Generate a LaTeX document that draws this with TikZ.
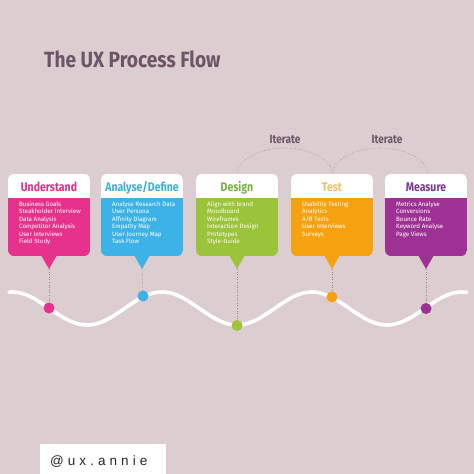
\documentclass[tikz,border=0pt]{standalone}
\usepackage{fontspec}
\setmainfont{Fira Sans}
\newfontfamily\condfont[FakeStretch=0.84]{Fira Sans}
\newfontfamily\titlefont[FakeStretch=0.87]{Fira Sans}
\newfontfamily\bodyfont{Fira Sans}
\newfontfamily\handlefont[LetterSpace=30]{Liberation Sans}
\definecolor{bg}{RGB}{220,206,208}
\definecolor{titlec}{RGB}{107,85,102}
\definecolor{cpink}{RGB}{230,50,140}
\definecolor{cblue}{RGB}{60,178,230}
\definecolor{cgreen}{RGB}{156,196,58}
\definecolor{corange}{RGB}{246,162,16}
\definecolor{cpurple}{RGB}{158,50,148}
\definecolor{hpink}{RGB}{222,48,135}
\definecolor{hblue}{RGB}{62,175,215}
\definecolor{hgreen}{RGB}{118,178,66}
\definecolor{horange}{RGB}{240,190,100}
\definecolor{hpurple}{RGB}{125,58,140}
\definecolor{dotline}{RGB}{150,135,142}
\tikzset{
  headtext/.style={font=\condfont\bfseries\fontsize{12.5}{14}\selectfont, inner sep=0pt, anchor=base},
  bodytext/.style={font=\bodyfont\fontsize{6.2}{7.5}\selectfont, text=white, align=left, inner sep=0pt, anchor=north west},
  dotnode/.style={circle, minimum size=11pt, inner sep=0pt, draw=none},
  conn/.style={draw=dotline, dotted, line width=0.6pt},
  iterarc/.style={draw=dotline, dotted, line width=0.6pt},
  itertext/.style={font=\condfont\bfseries\fontsize{12}{14}\selectfont, text=titlec, inner sep=0pt, anchor=base}
}
\newcommand\uxbox[6]{%
  \begin{scope}
    \clip[rounded corners=6pt] (#2,174) rectangle (#2+82,256);
    \fill[white] (#2,174) rectangle (#2+82,197.5);
    \fill[#3] (#2,197.5) rectangle (#2+82,256);
  \end{scope}
  \fill[#3] (#2+33,255) -- (#2+41,269) -- (#2+49,255) -- cycle;
  \node[headtext, text=#4] (#1-h) at (#2+41,191.5) {#5};
  \node[bodytext] (#1-b) at (#2+11,201.3) {#6};
  \coordinate (#1-tip) at (#2+41,269);
}
\begin{document}
\begin{tikzpicture}[x=1pt,y=-1pt]
\useasboundingbox (0,0) rectangle (474,474);
\fill[bg] (0,0) rectangle (474,474);
% title
\node[font=\titlefont\bfseries\fontsize{22}{24}\selectfont, text=titlec, anchor=base west, inner sep=0pt] (title) at (44,67.5) {The UX Process Flow};
% iterate arcs
\coordinate (a1) at (237,175);
\coordinate (a2) at (332.5,175);
\draw[iterarc] (a1) arc[start angle=180, end angle=360, x radius=47.75, y radius=27];
\draw[iterarc] (a2) arc[start angle=180, end angle=360, x radius=47.75, y radius=27];
\node[itertext] (it1) at (285,143) {Iterate};
\node[itertext] (it2) at (387,143) {Iterate};
% boxes
\uxbox{u}{8}{cpink}{hpink}{Understand}{Business Goals\\Steakholder Interview\\Data Analysis\\Competitor Analysis\\User Interviews\\Field Study}
\uxbox{a}{101}{cblue}{hblue}{Analyse/Define}{Analyse Research Data\\User Persona\\Affinity Diagram\\Empathy Map\\User Journey Map\\Task Flow}
\uxbox{d}{196}{cgreen}{hgreen}{Design}{Align with brand\\Moodboard\\Wireframes\\Interaction Design\\Prototypes\\Style-Guide}
\uxbox{t}{291}{corange}{horange}{Test}{Usability Testing\\Analytics\\A/B Tests\\User Interviews\\Surveys}
\uxbox{m}{385}{cpurple}{hpurple}{Measure}{Metrics Analyse\\Conversions\\Bounce Rate\\Keyword Analyse\\Page Views}
% wave
\draw[white, line width=3.6pt, line cap=round] plot[domain=9:467, samples=150, smooth] (\x, {308.5-16.5*cos(2.4*(\x-12))});
% dots
\node[dotnode, fill=cpink] (u-dot) at (49,308) {};
\node[dotnode, fill=cblue] (a-dot) at (143,296) {};
\node[dotnode, fill=cgreen] (d-dot) at (237,325.5) {};
\node[dotnode, fill=corange] (t-dot) at (332,297) {};
\node[dotnode, fill=cpurple] (m-dot) at (426,308.5) {};
\foreach \n in {u,a,d,t,m}{\draw[conn] (\n-tip) -- (\n-dot);}
% handle
\fill[white] (40,444) rectangle (166,474);
\node[font=\handlefont\fontsize{13.5}{15}\selectfont, text=black!85, anchor=base west, inner sep=0pt] (handle) at (50,465) {@ux.annie};
\end{tikzpicture}
\end{document}
